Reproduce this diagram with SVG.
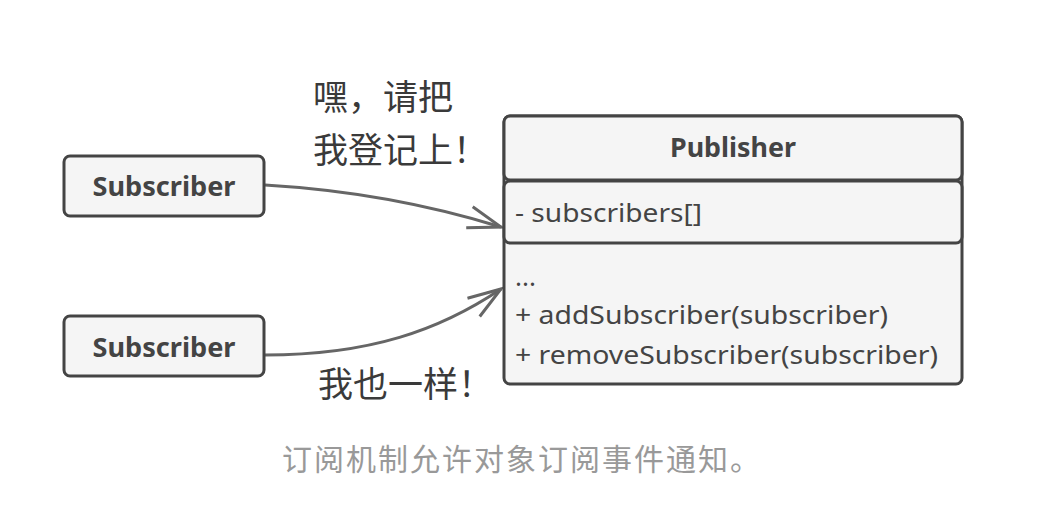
<svg xmlns="http://www.w3.org/2000/svg" width="1042" height="516" viewBox="0 0 1042 516">
<style>
.box{fill:#f5f5f5;stroke:#444;stroke-width:3}
.bold{font-family:"Noto Sans","Liberation Sans",sans-serif;font-weight:bold;font-size:26px;fill:#444}
.mem{font-family:"Noto Sans","Liberation Sans",sans-serif;font-size:26px;fill:#444}
.cjk{font-family:"Noto Sans CJK SC",sans-serif;font-size:35px;fill:#3a3a3a}
.cap{font-family:"Noto Sans CJK SC",sans-serif;font-size:30px;fill:#999}
.conn{fill:none;stroke:#666;stroke-width:3}
</style>
<defs>
<marker id="arr" markerUnits="userSpaceOnUse" markerWidth="40" markerHeight="40" refX="36" refY="15" orient="auto" viewBox="0 0 40 30">
<path d="M3,4 L36,15 L3,26" fill="none" stroke="#666" stroke-width="3"/>
</marker>
</defs>
<rect width="1042" height="516" fill="#fff"/>
<g id="connectors">
<path class="conn" d="M265,185 C350,190 430,205 501,227" marker-end="url(#arr)"/>
<path class="conn" d="M265,355 C370,355 440,330 501,289" marker-end="url(#arr)"/>
</g>
<g id="subscriber1">
<rect class="box" x="64" y="156" width="200" height="60" rx="6"/>
<text class="bold" x="164" y="196" text-anchor="middle" textLength="143" lengthAdjust="spacingAndGlyphs">Subscriber</text>
</g>
<g id="subscriber2">
<rect class="box" x="64" y="316" width="200" height="60" rx="6"/>
<text class="bold" x="164" y="357" text-anchor="middle" textLength="143" lengthAdjust="spacingAndGlyphs">Subscriber</text>
</g>
<g id="publisher">
<rect class="box" x="504" y="116" width="458" height="268" rx="6"/>
<rect class="box" x="504" y="116" width="458" height="64" rx="6"/>
<rect class="box" x="504" y="181" width="458" height="62" rx="6"/>
<text class="bold" x="733" y="157" text-anchor="middle" textLength="126" lengthAdjust="spacingAndGlyphs">Publisher</text>
<text class="mem" x="515" y="222" textLength="187" lengthAdjust="spacingAndGlyphs">- subscribers[]</text>
<text class="mem" x="515" y="286">...</text>
<text class="mem" x="515" y="324" textLength="373" lengthAdjust="spacingAndGlyphs">+ addSubscriber(subscriber)</text>
<text class="mem" x="515" y="364" textLength="423" lengthAdjust="spacingAndGlyphs">+ removeSubscriber(subscriber)</text>
</g>
<g id="labels">
<text class="cjk" x="313" y="110">嘿，请把</text>
<text class="cjk" x="313" y="163">我登记上！</text>
<text class="cjk" x="318" y="397">我也一样！</text>
</g>
<text class="cap" x="522" y="470" text-anchor="middle" letter-spacing="2">订阅机制允许对象订阅事件通知。</text>
</svg>
